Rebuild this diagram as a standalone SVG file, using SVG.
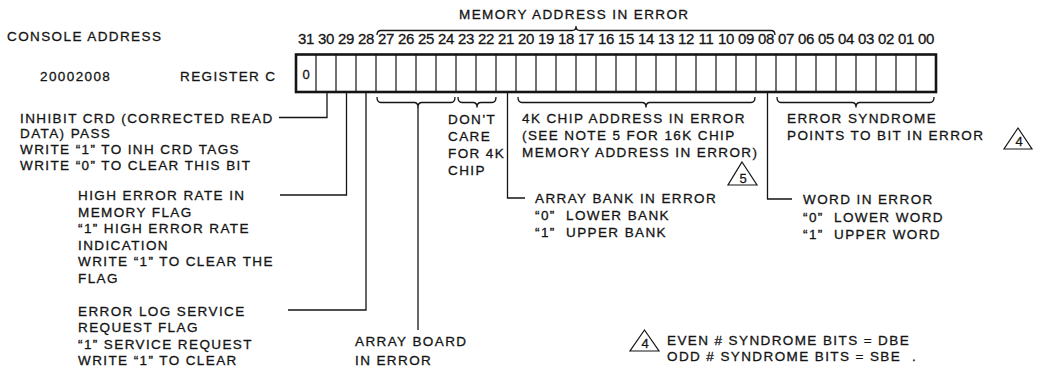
<svg xmlns="http://www.w3.org/2000/svg" width="1038" height="371" viewBox="0 0 1038 371">
<style>
text{font-family:"Liberation Sans",Arial,Helvetica,sans-serif;fill:#141414;stroke:#141414;stroke-width:0.3px;}
.t{font-size:13.5px;letter-spacing:1.4px;}
.n{font-size:15px;text-anchor:middle;letter-spacing:-0.3px;}
.ln{fill:none;stroke:#141414;stroke-width:1.3;}
.br{fill:none;stroke:#141414;stroke-width:1.3;stroke-linejoin:round;}
.cell{stroke:#141414;stroke-width:1.2;}
.tri{fill:none;stroke:#141414;stroke-width:1.2;stroke-linejoin:miter;}
</style>
<rect width="1038" height="371" fill="#fff"/>

<g id="header">
<text class="t" x="7" y="40.5">CONSOLE ADDRESS</text>
<text class="t" x="459" y="18.5">MEMORY ADDRESS IN ERROR</text>
<text class="t" x="40" y="81">20002008</text>
<text class="t" x="180" y="81">REGISTER C</text>
</g>

<g id="bit-numbers">
<text class="n" x="306" y="44">31</text><text class="n" x="326" y="44">30</text><text class="n" x="346" y="44">29</text><text class="n" x="366" y="44">28</text>
<text class="n" x="386" y="44">27</text><text class="n" x="406" y="44">26</text><text class="n" x="426" y="44">25</text><text class="n" x="446" y="44">24</text>
<text class="n" x="466" y="44">23</text><text class="n" x="486" y="44">22</text><text class="n" x="506" y="44">21</text><text class="n" x="526" y="44">20</text>
<text class="n" x="546" y="44">19</text><text class="n" x="566" y="44">18</text><text class="n" x="586" y="44">17</text><text class="n" x="606" y="44">16</text>
<text class="n" x="626" y="44">15</text><text class="n" x="646" y="44">14</text><text class="n" x="666" y="44">13</text><text class="n" x="686" y="44">12</text>
<text class="n" x="706" y="44">11</text><text class="n" x="726" y="44">10</text><text class="n" x="746" y="44">09</text><text class="n" x="766" y="44">08</text>
<text class="n" x="786" y="44">07</text><text class="n" x="806" y="44">06</text><text class="n" x="826" y="44">05</text><text class="n" x="846" y="44">04</text>
<text class="n" x="866" y="44">03</text><text class="n" x="886" y="44">02</text><text class="n" x="906" y="44">01</text><text class="n" x="926" y="44">00</text>
</g>

<g id="register">
<path class="cell" d="M316,55V92M336,55V92M356,55V92M376,55V92M396,55V92M416,55V92M436,55V92M456,55V92M476,55V92M496,55V92M516,55V92M536,55V92M556,55V92M576,55V92M596,55V92M616,55V92M636,55V92M656,55V92M676,55V92M696,55V92M716,55V92M736,55V92M756,55V92M776,55V92M796,55V92M816,55V92M836,55V92M856,55V92M876,55V92M896,55V92M916,55V92"/>
<rect x="296" y="54.5" width="640" height="37.5" fill="none" stroke="#141414" stroke-width="2.6"/>
<text x="306" y="78.5" style="font-size:13px;text-anchor:middle">0</text>
</g>

<g id="connectors">
<path class="br" d="M377,35Q377,30.5 381,30.5L572,30.5Q576,30.5 576,26.5Q576,30.5 580,30.5L771,30.5Q775,30.5 775,35"/>
<path class="br" d="M377,97Q377,102.5 381,102.5L414,102.5Q418,102.5 418,107Q418,102.5 422,102.5L451,102.5Q455,102.5 455,97"/>
<path class="br" d="M458,97Q458,102.5 462,102.5L473,102.5Q477,102.5 477,107Q477,102.5 481,102.5L492,102.5Q496,102.5 496,97"/>
<path class="br" d="M518,97Q518,102.5 522,102.5L642,102.5Q646,102.5 646,107Q646,102.5 650,102.5L751,102.5Q755,102.5 755,97"/>
<path class="br" d="M777,97Q777,102.5 781,102.5L852,102.5Q856,102.5 856,107Q856,102.5 860,102.5L930,102.5Q934,102.5 934,97"/>
<path class="ln" d="M418,107V330"/>
<path class="ln" d="M327,93V117.5H279"/>
<path class="ln" d="M346.5,93V195H280"/>
<path class="ln" d="M366,93V310H288"/>
<path class="ln" d="M507.5,93V198H525"/>
<path class="ln" d="M767.5,93V199H792"/>
</g>

<g id="bit30-inhibit-crd">
<text class="t" x="20" y="122.5">INHIBIT CRD (CORRECTED READ</text>
<text class="t" x="20" y="138.3">DATA) PASS</text>
<text class="t" x="20" y="154.2">WRITE “1” TO INH CRD TAGS</text>
<text class="t" x="20" y="170">WRITE “0” TO CLEAR THIS BIT</text>
</g>

<g id="bit29-high-error-rate">
<text class="t" x="78" y="200">HIGH ERROR RATE IN</text>
<text class="t" x="78" y="216.5">MEMORY FLAG</text>
<text class="t" x="78" y="233">“1” HIGH ERROR RATE</text>
<text class="t" x="78" y="249.5">INDICATION</text>
<text class="t" x="78" y="266">WRITE “1” TO CLEAR THE</text>
<text class="t" x="78" y="282.5">FLAG</text>
</g>

<g id="bit28-error-log">
<text class="t" x="78" y="316">ERROR LOG SERVICE</text>
<text class="t" x="78" y="332">REQUEST FLAG</text>
<text class="t" x="78" y="348.5">“1” SERVICE REQUEST</text>
<text class="t" x="78" y="365">WRITE “1” TO CLEAR</text>
</g>

<g id="array-board">
<text class="t" x="355" y="346">ARRAY BOARD</text>
<text class="t" x="355" y="365">IN ERROR</text>
</g>

<g id="dont-care">
<text class="t" x="448" y="123.5">DON’T</text>
<text class="t" x="448" y="140.5">CARE</text>
<text class="t" x="448" y="157.5">FOR 4K</text>
<text class="t" x="448" y="174.5">CHIP</text>
</g>

<g id="chip-address">
<text class="t" x="522" y="123">4K CHIP ADDRESS IN ERROR</text>
<text class="t" x="522" y="140">(SEE NOTE 5 FOR 16K CHIP</text>
<text class="t" x="522" y="157">MEMORY ADDRESS IN ERROR)</text>
<path class="tri" d="M742,162L757,185H728Z"/>
<text x="743" y="182.5" style="font-size:13px;text-anchor:middle">5</text>
</g>

<g id="array-bank">
<text class="t" x="535" y="203">ARRAY BANK IN ERROR</text>
<text class="t" x="535" y="220">“0”&#160; LOWER BANK</text>
<text class="t" x="535" y="236.7">“1”&#160; UPPER BANK</text>
</g>

<g id="word-in-error">
<text class="t" x="803" y="204">WORD IN ERROR</text>
<text class="t" x="803" y="221.5">“0”&#160; LOWER WORD</text>
<text class="t" x="803" y="239">“1”&#160; UPPER WORD</text>
</g>

<g id="error-syndrome">
<text class="t" x="787" y="122.5">ERROR SYNDROME</text>
<text class="t" x="787" y="139.5">POINTS TO BIT IN ERROR</text>
<path class="tri" d="M1018,128L1032,149H1004Z"/>
<text x="1019" y="146" style="font-size:13px;text-anchor:middle">4</text>
</g>

<g id="note-4">
<path class="tri" d="M644.5,330L659,351H630Z"/>
<text x="645" y="348" style="font-size:13px;text-anchor:middle">4</text>
<text class="t" x="667" y="344.5">EVEN # SYNDROME BITS = DBE</text>
<text class="t" x="667" y="361">ODD # SYNDROME BITS = SBE</text>
<text class="t" x="912" y="361">.</text>
</g>
</svg>
